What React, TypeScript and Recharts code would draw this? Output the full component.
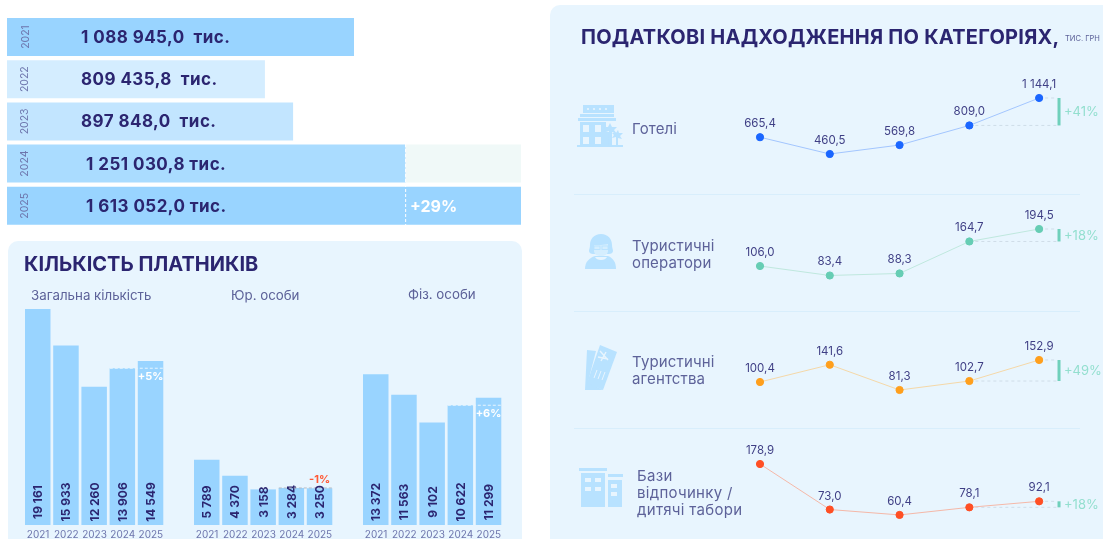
import React from "react";
import { BarChart, Bar, Cell, XAxis, YAxis, LabelList, ReferenceLine, LineChart, Line } from "recharts";

const FONT = "Inter, 'Open Sans', sans-serif";
const NAVY = "#2b2570";
const SOFT = "#5d6299";

// Top bars: yearly revenue
const revenueYears = ["2021", "2022", "2023", "2024", "2025"];
const revenueValues = [1088945.0, 809435.8, 897848.0, 1251030.8, 1613052.0];
const revenueLabels = ["1 088 945,0  тис.", "809 435,8  тис.", "897 848,0  тис.", "1 251 030,8 тис.", "1 613 052,0 тис."];
const revenueGap = [0, 0, 0, 362021.2, 0];
const revenueColors = ["#99d4ff", "#d4edff", "#c2e5ff", "#aadcff", "#99d4ff"];
const revenueGrowth = "+29%";

// Payer counts
const payerYears = ["2021", "2022", "2023", "2024", "2025"];
const payersTotal = [19161, 15933, 12260, 13906, 14549];
const payersLegal = [5789, 4370, 3158, 3284, 3250];
const payersPersons = [13372, 11563, 9102, 10622, 11299];
const payerGroupTitles = ["Загальна кількість", "Юр. особи", "Фіз. особи"];
const payerGrowth = ["+5%", "-1%", "+6%"];

// Tax receipts by category
const receiptYears = [2021, 2022, 2023, 2024, 2025];
const hotels = [665.4, 460.5, 569.8, 809.0, 1144.1];
const operators = [106.0, 83.4, 88.3, 164.7, 194.5];
const agencies = [100.4, 141.6, 81.3, 102.7, 152.9];
const camps = [178.9, 73.0, 60.4, 78.1, 92.1];
const receiptGrowth = ["+41%", "+18%", "+49%", "+18%"];

const fmtThousands = (n: number) => String(n).replace(/\B(?=(\d{3})+(?!\d))/g, " ");
const fmtReceipt = (n: number) => fmtThousands(Math.floor(n)) + "," + n.toFixed(1).split(".")[1];

const revenueData = revenueYears.map((year, i) => ({ year, value: revenueValues[i], gap: revenueGap[i], label: revenueLabels[i] }));

function RevenueLabel(props: any) {
  const { y, height, index, value } = props;
  const cy = y + height / 2;
  const labelX = index >= 3 ? 86 : 81;
  return (
    <g fontFamily={FONT}>
      <text x={18} y={cy} transform={`rotate(-90 18 ${cy})`} textAnchor="middle" dominantBaseline="central" fontSize={10.5} fill="#6e76ad">
        {revenueYears[index]}
      </text>
      <text x={labelX - 7} y={cy} dominantBaseline="central" fontSize={17} letterSpacing={0.45} fontWeight={700} fill={NAVY} xmlSpace="preserve">
        {value}
      </text>
      {index === 4 && (
        <text x={403} y={cy} dominantBaseline="central" fontSize={16} fontWeight={700} fill="#fff">
          {revenueGrowth}
        </text>
      )}
    </g>
  );
}

function PayerGroup({ values, left, growth, prevColor, growthColor, growthAbove }: any) {
  const data = payerYears.map((year, i) => ({ year, value: values[i] }));
  const PayerLabel = (props: any) => {
    const { x, y, width, height, index, value } = props;
    const cx = x + width / 2;
    const ty = y + height - 23;
    let extra = null;
    if (index === 4) {
      const prevY = y + height - (height * values[3]) / values[4];
      extra = (
        <g>
          <line x1={x - 28} x2={x + width} y1={prevY} y2={prevY} stroke={prevColor} strokeWidth={1} strokeDasharray="3 2" />
          <text x={cx} y={growthAbove ? prevY - 9 : prevY + 8} textAnchor="middle" dominantBaseline="central" fontSize={11} fontWeight={700} fill={growthColor}>
            {growth}
          </text>
        </g>
      );
    }
    return (
      <g fontFamily={FONT}>
        {extra}
        <text x={cx} y={ty} transform={`rotate(-90 ${cx} ${ty})`} textAnchor="middle" dominantBaseline="central" fontSize={12} fontWeight={700} fill={NAVY}>
          {fmtThousands(value)}
        </text>
      </g>
    );
  };
  return (
    <div style={{ position: "absolute", left, top: 300, width: 141, height: 239 }}>
      <BarChart width={141} height={239} data={data} margin={{ top: 9, right: 0, bottom: 0, left: 0 }} barSize={25.5}>
        <XAxis dataKey="year" axisLine={false} tickLine={false} height={14} interval={0} tickMargin={0} tick={{ fontSize: 10, fill: "#6e76ad", fontFamily: FONT }} />
        <YAxis hide domain={[0, 19161]} />
        <Bar dataKey="value" fill="#99d4ff" isAnimationActive={false}>
          <LabelList dataKey="value" content={PayerLabel} />
        </Bar>
      </BarChart>
    </div>
  );
}

function ReceiptRow({ values, plotTop, plotHeight, domain, line, dot, growth }: any) {
  const data = receiptYears.map((year, i) => ({ year, value: values[i] }));
  const prev = values[3];
  const last = values[4];
  return (
    <div style={{ position: "absolute", left: 730, top: plotTop - 25, width: 373, height: plotHeight + 30 }}>
      <LineChart width={373} height={plotHeight + 30} data={data} margin={{ top: 25, right: 22, bottom: 5, left: 30 }}>
        <XAxis dataKey="year" type="number" domain={[2021, 2025.6]} hide />
        <YAxis hide domain={domain} />
        <ReferenceLine segment={[{ x: 2024, y: prev }, { x: 2025.25, y: prev }]} stroke="#cfdde8" strokeDasharray="3 3" />
        <ReferenceLine segment={[{ x: 2025, y: last }, { x: 2025.25, y: last }]} stroke="#cfdde8" strokeDasharray="3 3" />
        <ReferenceLine
          segment={[{ x: 2025.285, y: prev }, { x: 2025.285, y: last }]}
          stroke="#6fd0bb"
          strokeWidth={3}
          label={{ value: growth, position: "right", offset: 5, fill: "#93dfcf", fontSize: 13, fontFamily: FONT }}
        />
        <Line dataKey="value" stroke={line} strokeWidth={1} dot={{ r: 3.6, fill: dot, stroke: dot, strokeWidth: 1 }} isAnimationActive={false}>
          <LabelList dataKey="value" position="top" offset={10} formatter={fmtReceipt} style={{ fontSize: 11.5, fill: "#3f3f85", fontFamily: FONT }} />
        </Line>
      </LineChart>
    </div>
  );
}

function Icons() {
  const c = "#b8e2ff";
  const bg = "#e8f5fe";
  return (
    <svg width={1103} height={539} style={{ position: "absolute", left: 0, top: 0, pointerEvents: "none" }}>
      {/* hotel */}
      <g fill={c}>
        <rect x={583} y={105} width={31} height={8} />
        <rect x={580} y={114} width={34} height={3} />
        <rect x={578} y={118} width={38} height={3} />
        <rect x={580} y={122} width={26} height={24} />
        <rect x={606} y={132} width={6} height={14} />
        <rect x={577} y={145} width={46} height={2} />
        <path d="M608 146l1-15-6 2 3-4-3-2 5 0 2-4 2 4 5 0-3 3 3 4-5-2 0 14z" />
        <path d="M616 146l0-9-4 1 2-3-2-2 4 0 2-3 1 3 4 0-3 3 2 3-4-1 0 8z" />
      </g>
      <g fill={bg}>
        {[587, 593, 599, 605].map((x) => <circle key={x} cx={x + 1} cy={109} r={1.1} />)}
        <rect x={583} y={125} width={6} height={7} /><rect x={595} y={125} width={6} height={7} />
        <rect x={583} y={137} width={6} height={7} /><rect x={595} y={137} width={6} height={7} />
      </g>
      {/* person */}
      <g fill={c}>
        <path d="M601 234c7 0 11 5 11 11 0 3 1 4 1 6 0 2-2 3-4 3h-16c-2 0-4-1-4-3 0-2 1-3 1-6 0-6 4-11 11-11z" />
        <path d="M585 269c0-7 4-11 10-13h13c5 2 8 6 8 13z" />
      </g>
      <g>
        <path d="M594 245c4 0 10 0 14-1v7c0 3-3 5-7 5s-7-2-7-5z" fill="#d5eefe" />
        <path d="M595 257c1 2 3 3 6 3s5-1 6-3z" fill={bg} />
        <g fill="none" stroke={c} strokeWidth={0.9}>
          <rect x={594} y={246} width={6} height={3.5} /><rect x={602} y={246} width={6} height={3.5} />
        </g>
      </g>
      {/* tickets */}
      <g fill={c}>
        <path d="M587 350l9 1-8 31 15 8-18 0z" />
        <path d="M600 345l17 7-14 38-16-7z" />
      </g>
      <g fill="none" stroke={bg}>
        <path d="M600 351l8 9M606 352l-5 9M598 357l10 2" strokeWidth={1.4} />
        <path d="M594 378l3-8M598 379l3-8M602 380l3-8" strokeWidth={1} />
      </g>
      {/* camp buildings */}
      <g fill={c}>
        <rect x={579} y={468} width={28} height={3} />
        <rect x={608} y={474} width={15} height={3} />
        <rect x={581} y={473} width={24} height={34} />
        <rect x={608} y={480} width={14} height={27} />
      </g>
      <g fill={bg}>
        <rect x={585} y={478} width={6} height={4} /><rect x={595} y={478} width={6} height={4} />
        <rect x={585} y={487} width={6} height={4} /><rect x={595} y={487} width={6} height={4} />
        <rect x={611} y={484} width={6} height={4} /><rect x={611} y={492} width={6} height={4} />
      </g>
    </svg>
  );
}

const txt = (left: number, top: number, extra: any = {}): any => ({ position: "absolute", left, top, whiteSpace: "nowrap", fontFamily: FONT, ...extra });
const catStyle = { fontSize: 15, letterSpacing: 0.15, color: SOFT };

export default function App() {
  return (
    <div style={{ position: "fixed", left: 0, top: 0, width: 1103, height: 539, background: "#fff", overflow: "hidden", filter: "blur(0.4px)" }}>
      {/* Revenue */}
      <div style={{ position: "absolute", left: 7, top: 16, width: 514, height: 211 }}>
        <BarChart width={514} height={211} data={revenueData} layout="vertical" margin={{ top: 0, right: 0, bottom: 0, left: 0 }} barSize={38}>
          <XAxis type="number" hide domain={[0, 1613052]} />
          <YAxis type="category" dataKey="year" hide />
          <Bar dataKey="value" stackId="a" isAnimationActive={false}>
            {revenueColors.map((c) => <Cell key={c} fill={c} />)}
            <LabelList dataKey="label" content={RevenueLabel} />
          </Bar>
          <Bar dataKey="gap" stackId="a" fill="#f0f9f8" isAnimationActive={false} />
          <ReferenceLine x={1251030.8} stroke="#fff" strokeDasharray="3 2" />
        </BarChart>
      </div>

      {/* Payers panel */}
      <div style={{ position: "absolute", left: 8, top: 241, width: 514, height: 310, background: "#e8f5fe", borderRadius: 10 }} />
      <div style={txt(24, 252, { fontSize: 20, fontWeight: 700, color: NAVY })}>КІЛЬКІСТЬ ПЛАТНИКІВ</div>
      <div style={txt(31, 287, { fontSize: 13.3, color: SOFT })}>{payerGroupTitles[0]}</div>
      <div style={txt(231, 287, { fontSize: 13.3, color: SOFT })}>{payerGroupTitles[1]}</div>
      <div style={txt(408, 286, { fontSize: 13.3, color: SOFT })}>{payerGroupTitles[2]}</div>
      <PayerGroup values={payersTotal} left={23.5} growth={payerGrowth[0]} prevColor="#e8f5fe" growthColor="#fff" />
      <PayerGroup values={payersLegal} left={193} growth={payerGrowth[1]} prevColor="#b5bcc4" growthColor="#ff5a36" growthAbove />
      <PayerGroup values={payersPersons} left={361.5} growth={payerGrowth[2]} prevColor="#e8f5fe" growthColor="#fff" />

      {/* Receipts panel */}
      <div style={{ position: "absolute", left: 550, top: 5, width: 570, height: 550, background: "#e8f5fe", borderRadius: 10 }} />
      <div style={txt(581, 25, { fontSize: 20, letterSpacing: 0.25, fontWeight: 700, color: NAVY })}>ПОДАТКОВІ НАДХОДЖЕННЯ ПО КАТЕГОРІЯХ,</div>
      <div style={txt(1065, 34, { fontSize: 7.5, color: SOFT })}>ТИС. ГРН</div>
      {[194, 311, 428].map((y) => (
        <div key={y} style={{ position: "absolute", left: 574, top: y, width: 506, height: 1, background: "#d8eefc" }} />
      ))}
      <Icons />
      <div style={txt(632, 119, catStyle)}>Готелі</div>
      <div style={txt(632, 237, { ...catStyle, lineHeight: "17px" })}>Туристичні<br />оператори</div>
      <div style={txt(632, 353, { ...catStyle, lineHeight: "17px" })}>Туристичні<br />агентства</div>
      <div style={txt(637, 467, { ...catStyle, letterSpacing: 0.3, lineHeight: "17px" })}>Бази<br />відпочинку /<br />дитячі табори</div>

      <ReceiptRow values={hotels} plotTop={85} plotHeight={80} domain={[326.2, 1302.8]} line="#a3c6ff" dot="#1a66ff" growth={receiptGrowth[0]} />
      <ReceiptRow values={operators} plotTop={215} plotHeight={70} domain={[60.7, 227.95]} line="#bfe8de" dot="#66cdb4" growth={receiptGrowth[1]} />
      <ReceiptRow values={agencies} plotTop={345} plotHeight={55} domain={[57.4, 188.7]} line="#f5d8a8" dot="#ff9f1c" growth={receiptGrowth[2]} />
      <ReceiptRow values={camps} plotTop={450} plotHeight={75} domain={[37.0, 211.5]} line="#f5b8a8" dot="#ff4f24" growth={receiptGrowth[3]} />
    </div>
  );
}
